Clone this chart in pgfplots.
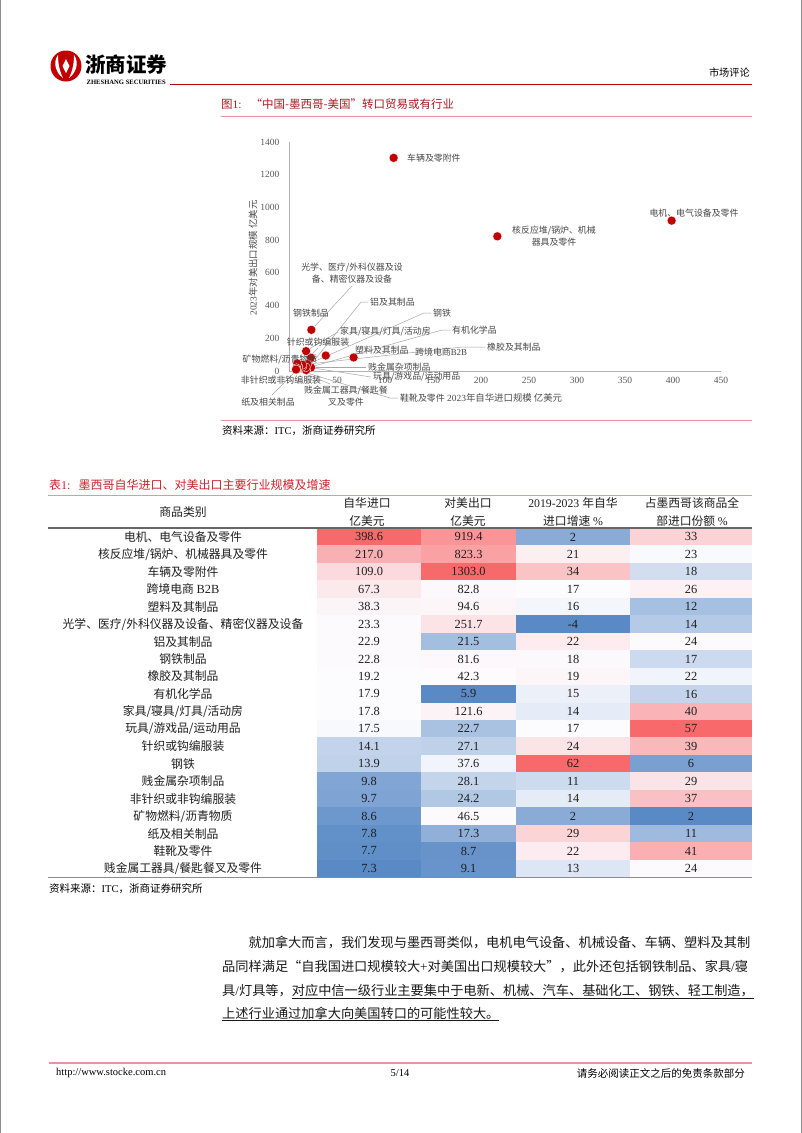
\documentclass[border=0pt]{standalone}
\usepackage{fontspec}
\usepackage{pgfplots}
\pgfplotsset{compat=1.18}
\setmainfont{Liberation Serif}
\newfontfamily\cjk{Noto Sans CJK SC}
\definecolor{hr}{RGB}{248,105,107}
\definecolor{hw}{RGB}{252,252,255}
\definecolor{hb}{RGB}{90,138,198}
\definecolor{dred}{RGB}{192,0,0}
\definecolor{titred}{RGB}{170,25,35}
\definecolor{tabred}{RGB}{205,35,45}
\definecolor{pinkline}{RGB}{226,150,160}
\newcommand\tn{\fontsize{12.4}{13}\selectfont}
\newcommand\tc{\cjk\fontsize{11.8}{13}\selectfont}
\newcommand\lb{\cjk\fontsize{8.9}{12}\selectfont}
\newcommand\trow[2]{\def\ry{#1}%
  \node[font=\tc, text=black!88] at (183,{-(536.9+17.45*#1)}) {#2};}
\newcommand\tcell[4]{%
  \fill[#4] (#1,{-(528+17.45*\ry)}) rectangle (#2,{-(528+17.45*\ry+17.6)});
  \node[font=\tn, inner sep=0pt, text=black!88] at ({(#1+#2)/2},{-(536.9+17.45*\ry)}) {#3};}
\newcommand\rowcells[8]{%
  \tcell{317}{421}{#1}{#2}\tcell{421}{516}{#3}{#4}\tcell{516}{630}{#5}{#6}\tcell{630}{752}{#7}{#8}}
\begin{document}
\begin{tikzpicture}
\useasboundingbox (0,0) rectangle (802pt,-1133pt);
\begin{scope}[x=1pt,y=1pt]
\fill[white] (0,0) rectangle (802,-1133);
\draw[black!45, line width=1pt] (0.5,0) -- (0.5,-1133);
\draw[black!45, line width=1pt] (801.5,0) -- (801.5,-1133);
% ---------- header ----------
\fill[dred] (66,-66) circle (15.5);
\fill[white] (58,-55) .. controls (53,-62) and (55,-72) .. (63,-78) .. controls (59,-70) and (58,-62) .. (58,-55);
\fill[white] (74,-55) .. controls (79,-62) and (77,-72) .. (69,-78) .. controls (73,-70) and (74,-62) .. (74,-55);
\fill[white] (66,-59) -- (69.5,-66) -- (66,-73) -- (62.5,-66) -- cycle;
\node[anchor=west, inner sep=0pt, font=\cjk\bfseries\fontsize{20.5}{22}\selectfont] at (85,-64.5) {浙商证券};
\node[anchor=west, inner sep=0pt, font=\bfseries\fontsize{6.6}{7}\selectfont] at (86.5,-82.5) {ZHESHANG SECURITIES};
\draw[dred, line width=1.6pt] (170,-84.5) -- (752,-84.5);
\node[anchor=east, inner sep=0pt, font=\cjk\fontsize{10.2}{11}\selectfont] at (750,-73) {市场评论};
% ---------- figure title ----------
\node[anchor=west, inner sep=0pt, text=titred, font=\fontsize{11.5}{12}\selectfont] at (221,-104) {{\cjk 图}1:\hspace{9pt}{\cjk “中国-墨西哥-美国”转口贸易或有行业}};
\draw[pinkline, line width=1pt] (221,-116.5) -- (752,-116.5);
% ---------- leader lines ----------
\begin{scope}[black!35, line width=0.5pt]
\draw (352,-286) -- (315,-326);
\draw (368,-302) -- (361,-302) -- (313,-362);
\draw (431,-313) -- (424,-313) -- (304,-366);
\draw (338,-332) -- (309,-349);
\draw (450,-330) -- (442,-330) -- (307,-368);
\draw (485,-347) -- (462,-347) -- (309,-364);
\draw (366,-367) -- (301,-367);
\draw (371,-377) -- (307,-367);
\draw (398,-398) -- (390,-398) -- (297,-370);
\draw (272,-395) -- (296,-371);
\draw (330,-384) -- (296,-370);
\draw (318,-348) -- (303,-363);
\end{scope}
\end{scope}
% ---------- scatter axis ----------
\begin{axis}[
  at={(289pt,-371pt)}, anchor=south west,
  width=432pt, height=229pt, scale only axis,
  xmin=0, xmax=450, ymin=0, ymax=1400,
  axis lines=left,
  axis line style={-, black!30, line width=0.7pt},
  xtick={50,100,...,450}, ytick={0,200,...,1400},
  major tick length=0pt,
  tick label style={font=\fontsize{9.5}{10}\selectfont, text=black!65},
  yticklabel style={xshift=-6pt},
  xticklabel style={yshift=-3pt},
  /pgf/number format/assume math mode=true,
  /pgf/number format/1000 sep={},
  clip=false,
]
\addplot[only marks, mark=*, mark size=4.5pt, mark options={fill=dred, draw=white, line width=0.3pt}] table {
x y
398.6 919.4
217.0 823.3
109.0 1303.0
67.3 82.8
38.3 94.6
23.3 251.7
22.9 21.5
22.8 81.6
19.2 42.3
17.9 5.9
17.8 121.6
17.5 22.7
14.1 27.1
13.9 37.6
9.8 28.1
9.7 24.2
8.6 46.5
7.8 17.3
7.7 8.7
7.3 9.1
};
\end{axis}
\begin{scope}[x=1pt,y=1pt]
% axis titles
\node[rotate=90, inner sep=0pt, text=black!70, font=\fontsize{9.4}{10}\selectfont] at (253,-258) {2023{\cjk 年对美出口规模 亿美元}};
\node[anchor=west, inner sep=0pt, text=black!70, font=\fontsize{9.4}{10}\selectfont] at (447,-398) {2023{\cjk 年自华进口规模 亿美元}};
% point labels
\begin{scope}[every node/.style={inner sep=0pt, font=\lb, text=black!72}]
\node[anchor=west] at (407,-158) {车辆及零附件};
\node[align=center] at (554,-236) {核反应堆/锅炉、机械\\器具及零件};
\node at (694,-213) {电机、电气设备及零件};
\node[align=center] at (352,-273) {光学、医疗/外科仪器及设\\备、精密仪器及设备};
\node at (311,-313) {钢铁制品};
\node[anchor=west] at (370,-302) {铝及其制品};
\node[anchor=west] at (433,-313) {钢铁};
\node[anchor=west] at (340,-331) {家具/寝具/灯具/活动房};
\node[anchor=west] at (452,-330) {有机化学品};
\node at (318,-342) {针织或钩编服装};
\node[anchor=west] at (355,-350) {塑料及其制品};
\node[anchor=west] at (415,-352) {跨境电商\fontspec{Liberation Serif}B2B};
\node[anchor=west] at (487,-347) {橡胶及其制品};
\node at (280,-360) {矿物燃料/沥青物质};
\node[anchor=west] at (368,-367) {贱金属杂项制品};
\node[anchor=west] at (373,-377) {玩具/游戏品/运动用品};
\node at (281,-380) {非针织或非钩编服装};
\node[align=center] at (346,-396.5) {贱金属工器具/餐匙餐\\叉及零件};
\node at (268,-402) {纸及相关制品};
\node[anchor=west] at (400,-398) {鞋靴及零件};
\end{scope}
% figure source
\draw[pinkline, line width=1pt] (221,-420) -- (752,-420);
\node[anchor=west, inner sep=0pt, font=\fontsize{10.5}{11}\selectfont] at (222,-431) {{\cjk 资料来源：}ITC{\cjk ，浙商证券研究所}};
% ---------- table ----------
\node[anchor=west, inner sep=0pt, text=tabred, font=\fontsize{12}{13}\selectfont] at (49,-485) {{\cjk 表}1:\hspace{8pt}{\cjk 墨西哥自华进口、对美出口主要行业规模及增速}};
\draw[pinkline, line width=1pt] (48,-495) -- (752,-495);
\begin{scope}[every node/.style={font=\tc, inner sep=0pt, text=black!88}]
\node at (183,-512) {商品类别};
\node at (367,-503) {自华进口};
\node at (367,-521) {亿美元};
\node at (468,-503) {对美出口};
\node at (468,-521) {亿美元};
\node at (573,-503) {\fontspec{Liberation Serif}2019-2023 {\cjk 年自华}};
\node at (573,-521) {进口增速 {\fontspec{Liberation Serif}\%}};
\node at (692,-503) {占墨西哥该商品全};
\node at (692,-521) {部进口份额 {\fontspec{Liberation Serif}\%}};
\end{scope}
\trow{0}{电机、电气设备及零件}\rowcells{398.6}{hr!100!hw}{919.4}{hr!70!hw}{2}{hb!71!hw}{33}{hr!28!hw}
\trow{1}{核反应堆/锅炉、机械器具及零件}\rowcells{217.0}{hr!52!hw}{823.3}{hr!62!hw}{21}{hr!9!hw}{23}{hb!2!hw}
\trow{2}{车辆及零附件}\rowcells{109.0}{hr!24!hw}{1303.0}{hr!100!hw}{34}{hr!38!hw}{18}{hb!26!hw}
\trow{3}{跨境电商 {\fontspec{Liberation Serif}\fontsize{12.4}{13}\selectfont B2B}}\rowcells{67.3}{hr!13!hw}{82.8}{hr!3!hw}{17}{hw}{26}{hr!7!hw}
\trow{4}{塑料及其制品}\rowcells{38.3}{hr!5!hw}{94.6}{hr!4!hw}{16}{hb!5!hw}{12}{hb!53!hw}
\trow{5}{光学、医疗/外科仪器及设备、精密仪器及设备}\rowcells{23.3}{hr!1!hw}{251.7}{hr!17!hw}{-4}{hb!100!hw}{14}{hb!44!hw}
\trow{6}{铝及其制品}\rowcells{22.9}{hr!1!hw}{21.5}{hb!54!hw}{22}{hr!11!hw}{24}{hr!1!hw}
\trow{7}{钢铁制品}\rowcells{22.8}{hr!1!hw}{81.6}{hr!3!hw}{18}{hr!2!hw}{17}{hb!30!hw}
\trow{8}{橡胶及其制品}\rowcells{19.2}{hw}{42.3}{hw}{19}{hr!4!hw}{22}{hb!7!hw}
\trow{9}{有机化学品}\rowcells{17.9}{hw}{5.9}{hb!100!hw}{15}{hb!10!hw}{16}{hb!35!hw}
\trow{10}{家具/寝具/灯具/活动房}\rowcells{17.8}{hw}{121.6}{hr!6!hw}{14}{hb!14!hw}{40}{hr!49!hw}
\trow{11}{玩具/游戏品/运动用品}\rowcells{17.5}{hb!3!hw}{22.7}{hb!51!hw}{17}{hw}{57}{hr!100!hw}
\trow{12}{针织或钩编服装}\rowcells{14.1}{hb!36!hw}{27.1}{hb!38!hw}{24}{hr!16!hw}{39}{hr!46!hw}
\trow{13}{钢铁}\rowcells{13.9}{hb!37!hw}{37.6}{hb!7!hw}{62}{hr!100!hw}{6}{hb!81!hw}
\trow{14}{贱金属杂项制品}\rowcells{9.8}{hb!76!hw}{28.1}{hb!35!hw}{11}{hb!29!hw}{29}{hr!16!hw}
\trow{15}{非针织或非钩编服装}\rowcells{9.7}{hb!77!hw}{24.2}{hb!46!hw}{14}{hb!14!hw}{37}{hr!40!hw}
\trow{16}{矿物燃料/沥青物质}\rowcells{8.6}{hb!88!hw}{46.5}{hr!1!hw}{2}{hb!71!hw}{2}{hb!100!hw}
\trow{17}{纸及相关制品}\rowcells{7.8}{hb!95!hw}{17.3}{hb!67!hw}{29}{hr!27!hw}{11}{hb!58!hw}
\trow{18}{鞋靴及零件}\rowcells{7.7}{hb!96!hw}{8.7}{hb!92!hw}{22}{hr!11!hw}{41}{hr!52!hw}
\trow{19}{贱金属工器具/餐匙餐叉及零件}\rowcells{7.3}{hb!100!hw}{9.1}{hb!91!hw}{13}{hb!19!hw}{24}{hr!1!hw}
\draw[black!60, line width=1.2pt] (48,-528) -- (752,-528);
\draw[black!45, line width=1.2pt] (48,-877.5) -- (752,-877.5);
\node[anchor=west, inner sep=0pt, font=\fontsize{10.5}{11}\selectfont] at (49,-889) {{\cjk 资料来源：}ITC{\cjk ，浙商证券研究所}};
% ---------- body text ----------
\begin{scope}[every node/.style={anchor=base west, inner sep=0pt, font=\fontsize{13.2}{16}\selectfont, text=black!90}]
\node at (248.4,-947) {{\cjk 就加拿大而言，我们发现与墨西哥类似，电机电气设备、机械设备、车辆、塑料及其制}};
\node at (222,-971) {{\cjk 品同样满足“自我国进口规模较大}+{\cjk 对美国出口规模较大”，此外还包括钢铁制品、家具}/{\cjk 寝}};
\node at (222,-995) {{\cjk 具}/{\cjk 灯具等，}\underline{\cjk 对应中信一级行业主要集中于电新、机械、汽车、基础化工、钢铁、轻工制造，}};
\node at (222,-1018) {\underline{\cjk 上述行业通过加拿大向美国转口的可能性较大。}};
\end{scope}
% ---------- footer ----------
\draw[pinkline, line width=1.2pt] (49,-1063) -- (752,-1063);
\node[anchor=west, inner sep=0pt, font=\fontsize{10.5}{11}\selectfont] at (56,-1073) {http://www.stocke.com.cn};
\node[inner sep=0pt, font=\fontsize{10.5}{11}\selectfont] at (400,-1073) {5/14};
\node[anchor=east, inner sep=0pt, font=\cjk\fontsize{10.5}{11}\selectfont] at (745,-1073) {请务必阅读正文之后的免责条款部分};
\end{scope}
\end{tikzpicture}
\end{document}
